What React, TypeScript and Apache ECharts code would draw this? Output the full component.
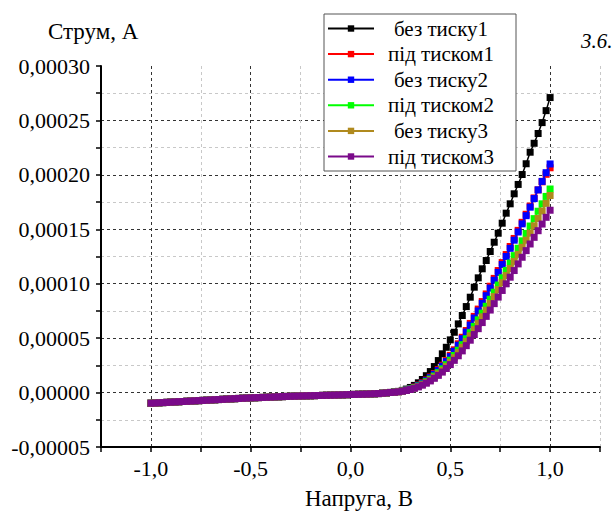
import React, { useEffect, useRef } from "react";
import * as echarts from "echarts";

// Voltage, V
const voltage = [
  -1.0, -0.98, -0.96, -0.94, -0.92, -0.9, -0.88, -0.86, -0.84, -0.82,
  -0.8, -0.78, -0.76, -0.74, -0.72, -0.7, -0.68, -0.66, -0.64, -0.62,
  -0.6, -0.58, -0.56, -0.54, -0.52, -0.5, -0.48, -0.46, -0.44, -0.42,
  -0.4, -0.38, -0.36, -0.34, -0.32, -0.3, -0.28, -0.26, -0.24, -0.22,
  -0.2, -0.18, -0.16, -0.14, -0.12, -0.1, -0.08, -0.06, -0.04, -0.02,
  0.0, 0.02, 0.04, 0.06, 0.08, 0.1, 0.12, 0.14, 0.16, 0.18,
  0.2,
  0.22, 0.24, 0.26, 0.28, 0.3, 0.32, 0.34, 0.36, 0.38, 0.4,
  0.42, 0.44, 0.46, 0.48, 0.5, 0.52, 0.54, 0.56, 0.58, 0.6,
  0.62, 0.64, 0.66, 0.68, 0.7, 0.72, 0.74, 0.76, 0.78, 0.8,
  0.82, 0.84, 0.86, 0.88, 0.9, 0.92, 0.94, 0.96, 0.98, 1.0,
];

// Current, µA, common to all curves for V = -1.00 … 0.20
const sharedLowUA = [
  -9.8, -9.6, -9.4, -9.2, -9.0, -8.8, -8.6, -8.4, -8.2, -8.0,
  -7.8, -7.6, -7.4, -7.2, -7.0, -6.8, -6.6, -6.4, -6.2, -6.0,
  -5.8, -5.6, -5.4, -5.2, -5.05, -4.9, -4.75, -4.6, -4.45, -4.3,
  -4.15, -4.0, -3.85, -3.7, -3.55, -3.4, -3.3, -3.2, -3.1, -3.0,
  -2.9, -2.8, -2.7, -2.6, -2.5, -2.4, -2.3, -2.2, -2.1, -1.95,
  -1.8, -1.7, -1.6, -1.5, -1.4, -1.25, -1.1, -0.9, -0.6, -0.3,
  0.1,
];

// Current, µA, for V = 0.22 … 1.00
const bezTysku1UA = [
  0.5, 1.1, 2.0, 3.2, 4.7, 6.6, 9.0, 12.0, 15.5, 19.3,
  23.9, 29.4, 35.6, 41.6, 48.4, 55.4, 63.1, 70.8, 79.0, 87.6,
  96.8, 105.4, 113.7, 121.3, 129.6, 138.1, 146.4, 155.6, 164.8, 173.4,
  182.6, 191.2, 200.3, 210.2, 220.8, 229, 238, 248, 259, 271,
];
const pidTyskom1UA = [
  0.4, 0.9, 1.6, 2.5, 3.7, 5.1, 6.9, 9.0, 11.5, 14.3,
  17.5, 21.1, 25.1, 29.5, 34.2, 39.3, 44.8, 50.8, 57.0, 63.5,
  70.0, 76.7, 83.6, 90.6, 97.7, 104.9, 112.1, 119.4, 126.8, 134.2,
  141.6, 149.0, 156.4, 163.8, 171.3, 178.8, 186.2, 193.6, 200.5, 206.5,
];
const bezTysku2UA = [
  0.4, 0.9, 1.5, 2.4, 3.5, 4.9, 6.6, 8.6, 11.0, 13.7,
  16.8, 20.3, 24.2, 28.5, 33.0, 38.0, 43.5, 49.5, 55.6, 62.0,
  68.5, 75.0, 82.0, 89.0, 96.0, 103.2, 110.4, 117.6, 125.0, 132.5,
  140.0, 147.5, 155.0, 162.5, 170.3, 178.2, 186.2, 194.0, 202.0, 210.0,
];
const pidTyskom2UA = [
  0.4, 0.8, 1.4, 2.2, 3.2, 4.5, 6.0, 7.8, 10.0, 12.4,
  15.2, 18.3, 21.8, 25.6, 29.7, 34.1, 38.9, 44.0, 49.4, 55.0,
  60.8, 66.8, 73.0, 79.3, 85.7, 92.2, 98.8, 105.5, 112.2, 119.0,
  125.8, 132.6, 139.4, 146.2, 153.0, 159.8, 166.6, 173.4, 180.2, 187.0,
];
const bezTysku3UA = [
  0.3, 0.7, 1.3, 2.0, 3.0, 4.2, 5.6, 7.3, 9.3, 11.6,
  14.2, 17.1, 20.4, 24.0, 27.9, 32.1, 36.7, 41.6, 46.8, 52.2,
  57.8, 63.6, 69.6, 75.7, 81.9, 88.2, 94.6, 101.0, 107.5, 114.0,
  120.5, 127.0, 133.5, 140.0, 146.5, 153.2, 160.0, 166.8, 173.8, 181.0,
];
const pidTyskom3UA = [
  0.3, 0.7, 1.2, 1.9, 2.8, 3.9, 5.2, 6.8, 8.6, 10.7,
  13.1, 15.8, 18.8, 22.1, 25.7, 29.6, 33.8, 38.3, 43.1, 48.1,
  53.3, 58.7, 64.3, 70.0, 75.8, 81.7, 87.7, 93.8, 99.9, 106.0,
  112.1, 118.2, 124.3, 130.4, 136.5, 142.6, 148.7, 154.8, 161.0, 167.5,
];

const seriesNames = ["без тиску1", "під тиском1", "без тиску2", "під тиском2", "без тиску3", "під тиском3"];
const seriesColors = ["#000000", "#ff0000", "#0000ff", "#00ff00", "#b08a1e", "#7a0a8a"];
const upperParts = [bezTysku1UA, pidTyskom1UA, bezTysku2UA, pidTyskom2UA, bezTysku3UA, pidTyskom3UA];

const xTickValues = [-1.0, -0.5, 0.0, 0.5, 1.0];
const xTickLabels = ["-1,0", "-0,5", "0,0", "0,5", "1,0"];
const yTickValues = [-0.00005, 0, 0.00005, 0.0001, 0.00015, 0.0002, 0.00025, 0.0003];
const yTickLabels = ["-0,00005", "0,00000", "0,00005", "0,00010", "0,00015", "0,00020", "0,00025", "0,00030"];

const FONT = "Liberation Serif, Times New Roman, serif";

export default function App() {
  const ref = useRef<HTMLDivElement>(null);

  useEffect(() => {
    const chart = echarts.init(ref.current!, null, { renderer: "svg" });

    const series = seriesNames.map((name, k) => {
      const color = seriesColors[k];
      const data = voltage.map((v, i) => {
        const ua = i < sharedLowUA.length ? sharedLowUA[i] : upperParts[k][i - sharedLowUA.length];
        return [v, ua * 1e-6];
      });
      return {
        name,
        type: "line",
        data,
        symbol: "rect",
        symbolSize: 7,
        showSymbol: true,
        lineStyle: { color, width: 1.5 },
        itemStyle: { color },
        z: 2 + k,
      };
    });

    const findLabel = (v: number, vals: number[], labels: string[], tol: number) => {
      const idx = vals.findIndex((t) => Math.abs(t - v) < tol);
      return idx >= 0 ? labels[idx] : "";
    };

    chart.setOption({
      animation: false,
      textStyle: { fontFamily: FONT },
      grid: { left: 101, right: 16, top: 66, bottom: 65, containLabel: false },
      xAxis: {
        type: "value",
        min: -1.25,
        max: 1.25,
        interval: 0.25,
        axisLine: { show: true, onZero: false, lineStyle: { color: "#000", width: 2 } },
        axisTick: { show: true, inside: false, length: 5, lineStyle: { color: "#000", width: 1.5 } },
        axisLabel: {
          formatter: (v: number) => findLabel(v, xTickValues, xTickLabels, 1e-6),
          margin: 10,
          fontSize: 22,
          color: "#000",
          fontFamily: FONT,
        },
        splitLine: {
          show: true,
          lineStyle: { color: ["#c8c8c8", "#333333"], type: [3, 3], width: 1 },
        },
      },
      yAxis: {
        type: "value",
        min: -0.00005,
        max: 0.0003,
        interval: 0.000025,
        axisLine: { show: true, onZero: false, lineStyle: { color: "#000", width: 2 } },
        axisTick: { show: true, inside: false, length: 5, lineStyle: { color: "#000", width: 1.5 } },
        axisLabel: {
          formatter: (v: number) => findLabel(v, yTickValues, yTickLabels, 1e-9),
          margin: 11,
          fontSize: 22,
          color: "#000",
          fontFamily: FONT,
        },
        splitLine: {
          show: true,
          showMaxLine: false,
          lineStyle: { color: ["#333333", "#c8c8c8"], type: [3, 3], width: 1 },
        },
      },
      legend: {
        data: seriesNames,
        orient: "vertical",
        left: 324,
        top: 14,
        itemWidth: 46,
        itemHeight: 8,
        itemGap: 4.6,
        padding: [4, 13, 4, 3],
        borderColor: "#555",
        borderWidth: 1,
        backgroundColor: "#fff",
        formatter: "{a|{name}}",
        textStyle: {
          fontFamily: FONT,
          rich: {
            a: { width: 124, align: "center", fontSize: 21, lineHeight: 20, fontFamily: FONT, color: "#000" },
          },
        },
        z: 10,
      },
      graphic: [
        {
          type: "text",
          left: 48,
          top: 20,
          style: { text: "Струм, А", fontSize: 23, fontFamily: FONT, fill: "#000" },
        },
        {
          type: "text",
          left: 305,
          top: 487,
          style: { text: "Напруга, В", fontSize: 23, fontFamily: FONT, fill: "#000" },
        },
        {
          type: "text",
          left: 581,
          top: 30,
          style: { text: "3.6.", fontSize: 21, fontStyle: "italic", fontFamily: FONT, fill: "#000" },
        },
      ],
      series,
    });

    return () => chart.dispose();
  }, []);

  return <div ref={ref} style={{ position: "absolute", left: 0, top: 0, width: 616, height: 512 }} />;
}
